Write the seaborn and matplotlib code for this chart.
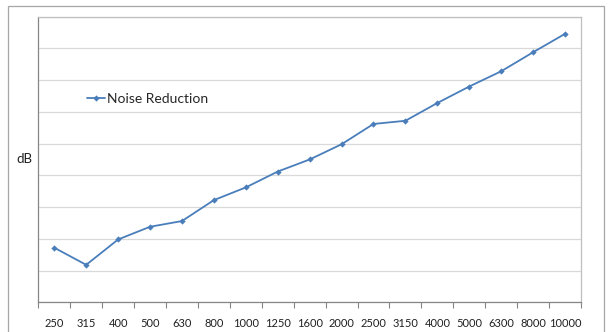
import numpy as np
import pandas as pd
import seaborn as sns
import matplotlib.pyplot as plt
from matplotlib.patches import Rectangle

# frequency bands (Hz) and noise reduction (dB)
freqs = ["250", "315", "400", "500", "630", "800", "1000", "1250", "1600",
         "2000", "2500", "3150", "4000", "5000", "6300", "8000", "10000"]
reduction = [8.6, 5.9, 9.9, 11.9, 12.8, 16.1, 18.1, 20.6, 22.5,
             24.9, 28.1, 28.6, 31.4, 34.0, 36.4, 39.4, 42.3]

df = pd.DataFrame({"pos": np.arange(len(freqs)), "freq": freqs, "dB": reduction})

sns.set_theme(style="white")
plt.rcParams["font.family"] = ["Lato", "DejaVu Sans"]

fig = plt.figure(figsize=(6.09, 3.32), dpi=100)
ax = fig.add_axes([0.0629, 0.0895, 0.8911, 0.8602])

# outer chart border
fig.patches.append(Rectangle((8 / 609, -0.05), (604 - 8) / 609, 1.05 - 6 / 332,
                             transform=fig.transFigure, fill=False,
                             edgecolor="#a6a6a6", linewidth=0.9))

sns.lineplot(data=df, x="pos", y="dB", ax=ax, color="#4a7ebb", linewidth=1.3,
             marker="D", markersize=3.2, markeredgewidth=0,
             label="Noise Reduction")

ax.set_xlim(-0.5, len(freqs) - 0.5)
ax.set_ylim(0, 45)
ax.set_yticks(np.arange(0, 46, 5))
ax.set_yticklabels([])
ax.yaxis.grid(True, color="#d9d9d9", linewidth=0.9)
ax.tick_params(axis="y", length=0)

ax.set_xticks(df["pos"])
ax.set_xticklabels(freqs, fontsize=8, color="#202020")
ax.set_xticks(np.arange(-0.5, len(freqs), 1), minor=True)
ax.tick_params(axis="x", which="major", length=0, pad=11)
ax.tick_params(axis="x", which="minor", length=4.5, width=0.8,
               color="#868686", direction="out", bottom=True)

ax.set_xlabel("")
ax.set_ylabel("dB", rotation=0, fontsize=9.5, color="#202020", labelpad=4)
ax.yaxis.set_label_coords(-0.025, 0.48)

for side in ["left", "bottom"]:
    ax.spines[side].set_color("#868686")
    ax.spines[side].set_linewidth(0.9)
for side in ["top", "right"]:
    ax.spines[side].set_color("#bfbfbf")
    ax.spines[side].set_linewidth(0.9)

ax.legend(loc="center left", bbox_to_anchor=(0.08, 0.712), frameon=False,
          fontsize=10, handlelength=1.3, handletextpad=0.15, borderaxespad=0)

fig.savefig("out.png", dpi=100)
